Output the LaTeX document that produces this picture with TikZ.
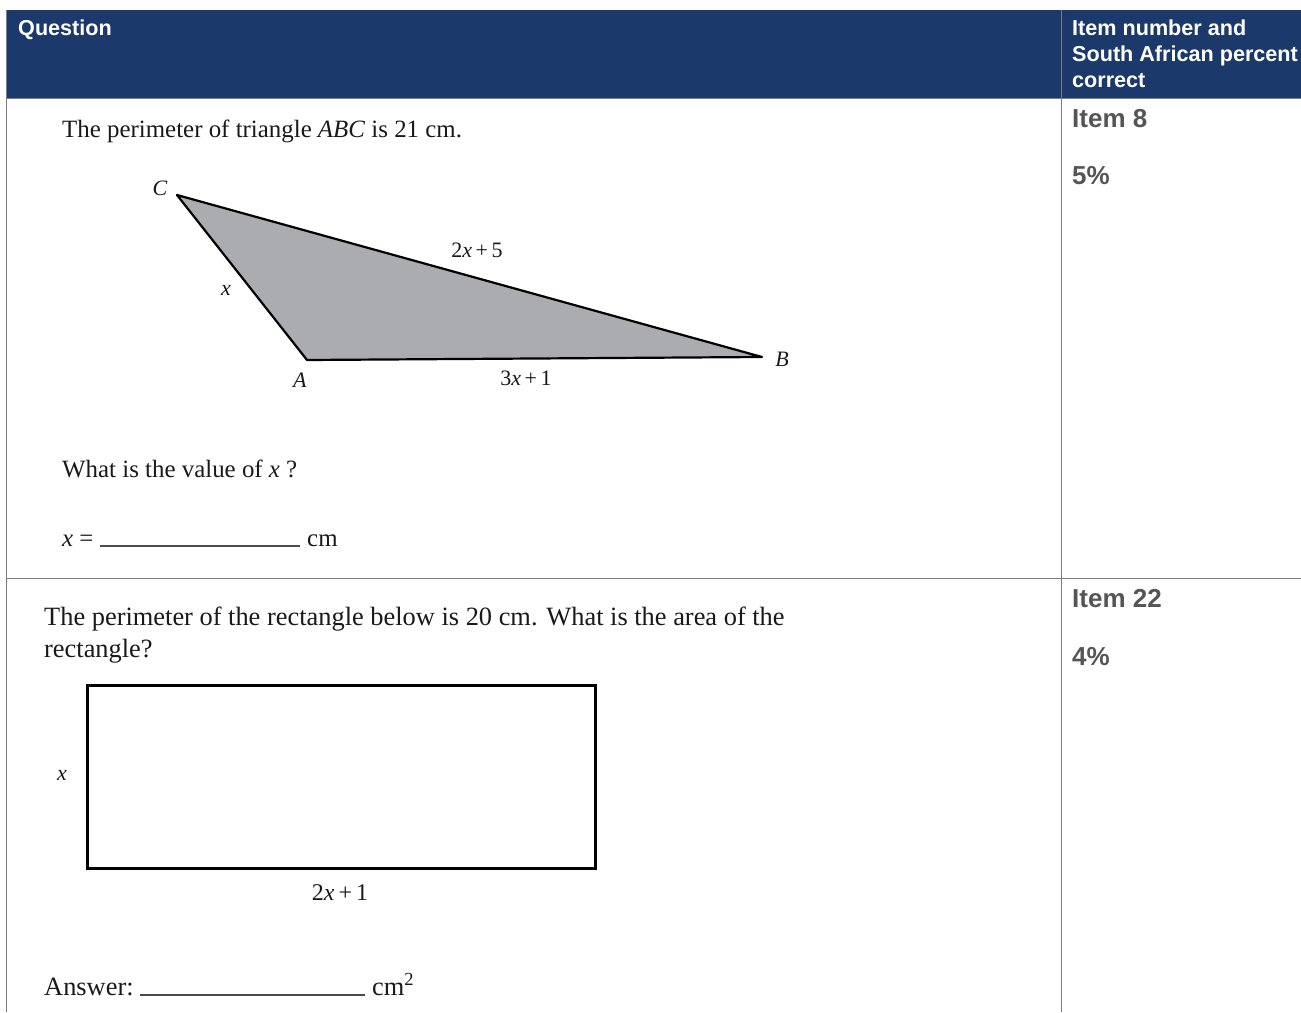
\documentclass[tikz,border=0pt]{standalone}
\usepackage{fontspec}
\setmainfont{Liberation Serif}
\setsansfont{Liberation Sans}
\usepackage{tikz}

\definecolor{headblue}{RGB}{28,57,107}
\definecolor{itemgrey}{RGB}{85,85,85}
\definecolor{trifill}{RGB}{170,172,176}
\definecolor{rulegrey}{RGB}{125,125,125}

\begin{document}
\begin{tikzpicture}[x=1pt,y=-1pt]
        \tikzset{head/.style = {anchor=base west, inner sep=0pt, text=white,
                 font=\sffamily\bfseries\fontsize{21.6}{24}\selectfont},
                 item/.style = {anchor=base west, inner sep=0pt, text=itemgrey,
                 font=\sffamily\bfseries\fontsize{26}{30}\selectfont},
                 qtext/.style = {anchor=base west, inner sep=0pt, text=black!90,
                 font=\fontsize{24.9}{28}\selectfont},
                 qtextb/.style = {qtext, font=\fontsize{26.4}{30}\selectfont},
                 lbl/.style = {inner sep=0pt, text=black!90,
                 font=\fontsize{22}{26}\selectfont},
                 blank/.style = {line width=1.6pt, black!70},
                 grid/.style = {line width=1pt, rulegrey}}
        \useasboundingbox (0,0) rectangle (1301,1012);
        % table
        \fill[headblue] (6,10) rectangle (1301,98);
        \draw[grid] (6,10) -- (6,1012);
        \draw[grid] (1061,10) -- (1061,1012);
        \draw[grid] (6,98) -- (1301,98);
        \draw[grid] (6,578) -- (1301,578);
        \node[head] (Q) at (18,35) {Question};
        \node[head] (H1) at (1072,35) {Item number and};
        \node[head] (H2) at (1072,61) {South African percent};
        \node[head] (H3) at (1072,87) {correct};
        \node[item] (I8) at (1072,127) {Item 8};
        \node[item] (P8) at (1072,184) {5\%};
        \node[item] (I22) at (1072,607) {Item 22};
        \node[item] (P22) at (1072,665) {4\%};
        % question 1
        \node[qtext] (T1) at (62,137) {The perimeter of triangle \textit{ABC} is 21 cm.};
        \coordinate (C) at (177,195);
        \coordinate (A) at (307,360);
        \coordinate (B) at (762,357);
        \filldraw[fill=trifill, draw=black, line width=2.2pt, line join=round]
            (A) -- (B) -- (C) -- cycle;
        \node[lbl] (LC) at (160,188) {\textit{C}};
        \node[lbl] (LA) at (300,380) {\textit{A}};
        \node[lbl] (LB) at (782,359) {\textit{B}};
        \node[lbl] (Lx) at (226,290) {\textit{x}};
        \node[lbl] (Lcb) at (477,250) {2\textit{x}\,+\,5};
        \node[lbl] (Lab) at (526,378) {3\textit{x}\,+\,1};
        \node[qtext] (T2) at (62,477) {What is the value of \textit{x} ?};
        \node[qtext] (X1) at (62,546) {\textit{x} =};
        \coordinate (u1) at (100,546);
        \coordinate (u2) at (300,546);
        \draw[blank] (u1) -- (u2);
        \node[qtext] (cm1) at (307,546) {cm};
        % question 2
        \node[qtextb] (T3) at (44,625)
            {The perimeter of the rectangle below is 20 cm. What is the area of the};
        \node[qtextb] (T4) at (44,657) {rectangle?};
        \draw[line width=3pt] (87,685) rectangle (595,868);
        \node[lbl] (Rx) at (62,775) {\textit{x}};
        \node[lbl, font=\fontsize{24}{28}\selectfont] (Rw) at (340,893) {2\textit{x}\,+\,1};
        \node[qtextb] (Ans) at (44,995) {Answer:};
        \coordinate (v1) at (140,995);
        \coordinate (v2) at (365,995);
        \draw[blank] (v1) -- (v2);
        \node[qtextb] (cm2) at (372,995) {cm\textsuperscript{2}};
    \end{tikzpicture}
\end{document}
